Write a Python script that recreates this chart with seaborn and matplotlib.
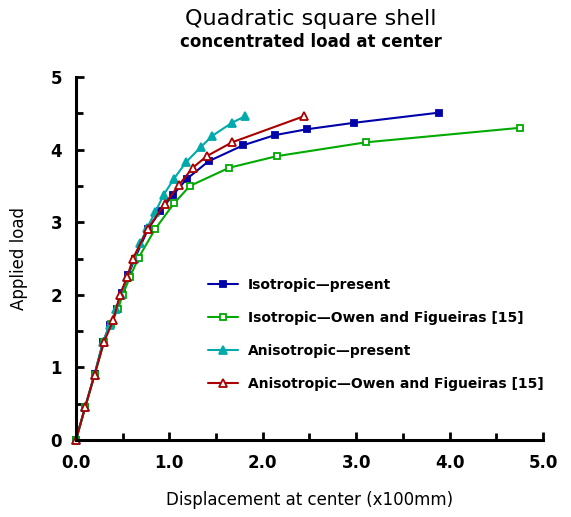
import matplotlib
matplotlib.use("Agg")
import matplotlib.pyplot as plt
import seaborn as sns
import pandas as pd
from matplotlib.ticker import MultipleLocator, FormatStrFormatter

# Data
iso_present_x = [0.0, 0.10, 0.20, 0.29, 0.36, 0.44, 0.49, 0.56, 0.63, 0.77, 0.90, 1.04, 1.19, 1.42, 1.79, 2.13, 2.47, 2.98, 3.89]
iso_present_y = [0.0, 0.46, 0.91, 1.35, 1.58, 1.80, 2.03, 2.27, 2.50, 2.90, 3.15, 3.38, 3.60, 3.84, 4.06, 4.20, 4.28, 4.37, 4.51]

iso_owen_x = [0.0, 0.10, 0.20, 0.30, 0.37, 0.45, 0.50, 0.58, 0.67, 0.85, 1.05, 1.22, 1.64, 2.15, 3.10, 4.75]
iso_owen_y = [0.0, 0.45, 0.90, 1.35, 1.60, 1.80, 2.00, 2.25, 2.51, 2.91, 3.26, 3.50, 3.75, 3.91, 4.10, 4.30]

aniso_present_x = [0.0, 0.10, 0.20, 0.29, 0.36, 0.43, 0.48, 0.55, 0.62, 0.69, 0.76, 0.85, 0.94, 1.05, 1.18, 1.34, 1.46, 1.67, 1.81]
aniso_present_y = [0.0, 0.46, 0.90, 1.35, 1.58, 1.80, 2.00, 2.25, 2.50, 2.71, 2.92, 3.14, 3.38, 3.60, 3.83, 4.04, 4.19, 4.37, 4.46]

aniso_owen_x = [0.0, 0.10, 0.20, 0.30, 0.40, 0.47, 0.55, 0.61, 0.77, 0.95, 1.10, 1.25, 1.40, 1.67, 2.44]
aniso_owen_y = [0.0, 0.46, 0.90, 1.35, 1.65, 2.00, 2.25, 2.50, 2.91, 3.25, 3.51, 3.75, 3.91, 4.10, 4.46]

labels = ["Isotropic\u2014present",
          "Isotropic\u2014Owen and Figueiras [15]",
          "Anisotropic\u2014present",
          "Anisotropic\u2014Owen and Figueiras [15]"]
colors = ["#0000AA", "#00AA00", "#00AAAA", "#AA0000"]

series = [
    (iso_present_x, iso_present_y, "s", True, 4.5),
    (iso_owen_x, iso_owen_y, "s", False, 4.5),
    (aniso_present_x, aniso_present_y, "^", True, 5.5),
    (aniso_owen_x, aniso_owen_y, "^", False, 5.5),
]

sns.set_theme(style="white")
plt.rcParams['font.family'] = ['DejaVu Sans']
plt.rcParams['text.color'] = 'black'
plt.rcParams['axes.labelcolor'] = 'black'

fig = plt.figure(figsize=(5.71, 5.17), dpi=100)
ax = fig.add_axes([0.133, 0.149, 0.818, 0.702])

for (xs, ys, mk, filled, ms), lab, col in zip(series, labels, colors):
    df = pd.DataFrame({"x": xs, "y": ys})
    sns.lineplot(data=df, x="x", y="y", ax=ax, sort=False, color=col,
                 marker=mk, markersize=ms, linewidth=1.5,
                 markerfacecolor=col if filled else "white",
                 markeredgecolor=col, markeredgewidth=1.3,
                 label=lab, clip_on=False, estimator=None)

ax.set_xlim(0, 5)
ax.set_ylim(0, 5)
ax.xaxis.set_major_locator(MultipleLocator(1.0))
ax.xaxis.set_minor_locator(MultipleLocator(0.5))
ax.yaxis.set_major_locator(MultipleLocator(1.0))
ax.yaxis.set_minor_locator(MultipleLocator(0.5))
ax.xaxis.set_major_formatter(FormatStrFormatter("%.1f"))
ax.yaxis.set_major_formatter(FormatStrFormatter("%d"))
ax.tick_params(which="both", direction="in", width=2, colors="black",
               bottom=True, left=True, top=False, right=False)
ax.tick_params(which="major", length=6, labelsize=12, pad=10)
ax.tick_params(which="minor", length=5)
for t in ax.get_xticklabels() + ax.get_yticklabels():
    t.set_fontweight("bold")

for s in ["top", "right"]:
    ax.spines[s].set_visible(False)
for s in ["left", "bottom"]:
    ax.spines[s].set_color("black")
    ax.spines[s].set_linewidth(2.2)

ax.set_xlabel("Displacement at center (x100mm)", fontsize=12, labelpad=14)
ax.set_ylabel("Applied load", fontsize=12, labelpad=16)

fig.text(0.545, 0.963, "Quadratic square shell", ha="center", va="center", fontsize=16)
fig.text(0.545, 0.918, "concentrated load at center", ha="center", va="center",
         fontsize=12, fontweight="bold")

leg = ax.legend(loc="upper left", bbox_to_anchor=(0.255, 0.48), frameon=False,
                fontsize=10, labelspacing=1.35, handlelength=2.2, handletextpad=0.7)
for t in leg.get_texts():
    t.set_fontweight("bold")

fig.savefig("out.png", dpi=100, facecolor="white")
